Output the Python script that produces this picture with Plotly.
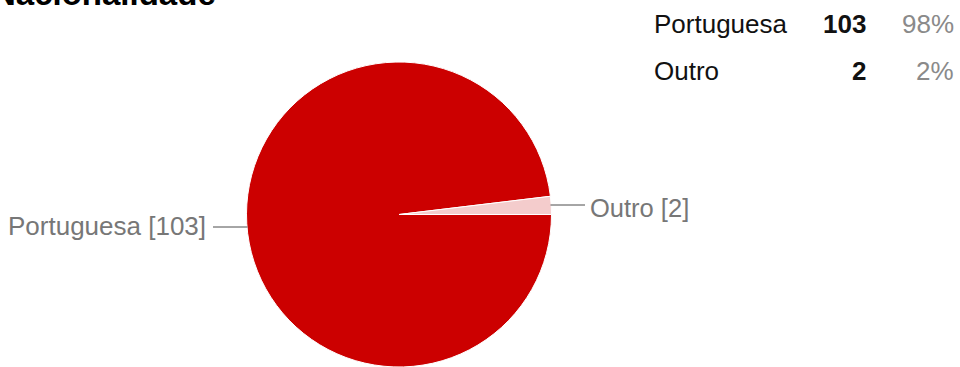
import plotly.graph_objects as go

# Survey answers: nationality
categories = ["Portuguesa", "Outro"]
counts = [103, 2]
slice_colors = ["#cc0000", "#f4cccc"]

W, H = 960, 367
FONT = "Liberation Sans, Arial, sans-serif"


def px(x):
    return x / W


def py(y):
    return 1 - y / H


total = sum(counts)
percents = [f"{round(100 * c / total)}%" for c in counts]

# Pie geometry (pixels): centre and radius
cx, cy, r = 399, 214.5, 152.5

fig = go.Figure(
    go.Pie(
        labels=categories,
        values=counts,
        sort=False,
        direction="clockwise",
        rotation=90,
        textinfo="none",
        marker=dict(colors=slice_colors, line=dict(color="white", width=1)),
        domain=dict(x=[px(cx - r), px(cx + r)], y=[0, py(cy - r)]),
        showlegend=False,
        hovertemplate="%{label}: %{value} (%{percent})<extra></extra>",
    )
)

annotations = []
shapes = []

# Title (runs off the top edge)
annotations.append(dict(
    text="<b>Nacionalidade</b>", x=0, y=py(-6), xref="paper", yref="paper",
    xanchor="left", yanchor="middle", xshift=-10, showarrow=False,
    font=dict(family=FONT, size=33, color="#000000"),
))

# Outside slice labels with leader lines
label_color = "#777777"
line_color = "#4d4d4d"
pie_labels = [f"{c} [{v}]" for c, v in zip(categories, counts)]

# left label (Portuguesa)
annotations.append(dict(
    text=pie_labels[0], x=px(208), y=py(226), xref="paper", yref="paper",
    xanchor="right", yanchor="middle", showarrow=False,
    font=dict(family=FONT, size=26, color=label_color),
))
shapes.append(dict(type="line", xref="paper", yref="paper",
                   x0=px(213), x1=px(cx - r + 1), y0=py(227), y1=py(227),
                   line=dict(color=line_color, width=1)))

# right label (Outro)
annotations.append(dict(
    text=pie_labels[1], x=px(588), y=py(208), xref="paper", yref="paper",
    xanchor="left", yanchor="middle", showarrow=False,
    font=dict(family=FONT, size=25.5, color=label_color),
))
shapes.append(dict(type="line", xref="paper", yref="paper",
                   x0=px(cx + r - 1), x1=px(585), y0=py(205), y1=py(205),
                   line=dict(color=line_color, width=1)))

# Summary table, top right
row_mid = [23.5, 71]
for name, cnt, pct, ym in zip(categories, counts, percents, row_mid):
    annotations.append(dict(
        text=name, x=px(652), y=py(ym), xref="paper", yref="paper",
        xanchor="left", yanchor="middle", showarrow=False,
        font=dict(family=FONT, size=26, color="#111111"),
    ))
    annotations.append(dict(
        text=f"<b>{cnt}</b>", x=px(868), y=py(ym), xref="paper", yref="paper",
        xanchor="right", yanchor="middle", showarrow=False,
        font=dict(family=FONT, size=26, color="#111111"),
    ))
    annotations.append(dict(
        text=pct, x=px(956), y=py(ym), xref="paper", yref="paper",
        xanchor="right", yanchor="middle", showarrow=False,
        font=dict(family=FONT, size=26, color="#8a8a8a"),
    ))

fig.update_layout(
    width=W, height=H,
    margin=dict(l=0, r=0, t=0, b=0),
    paper_bgcolor="white", plot_bgcolor="white",
    annotations=annotations, shapes=shapes,
)

fig.write_html("out.html")
